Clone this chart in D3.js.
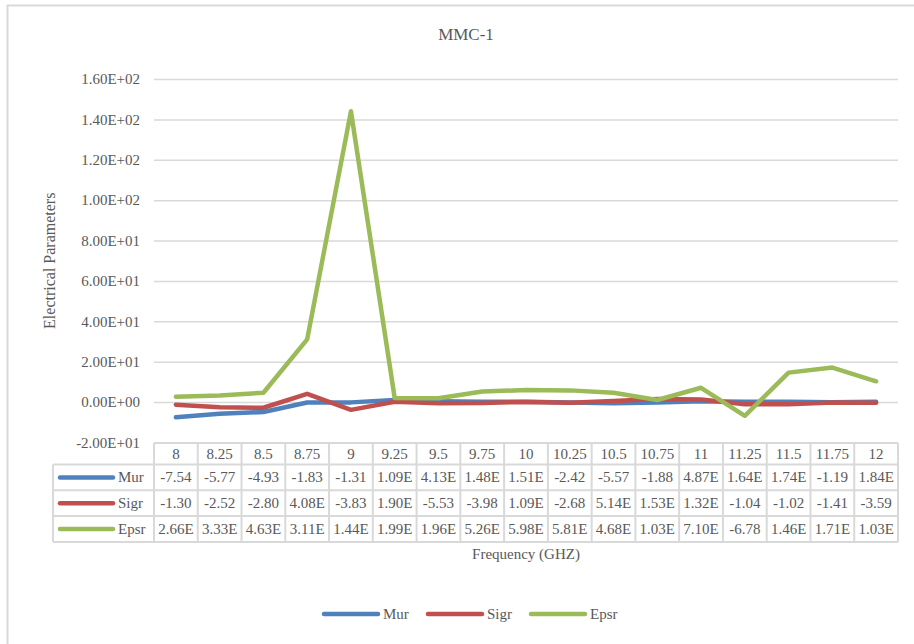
<!DOCTYPE html>
<html>
<head>
<meta charset="utf-8">
<script src="https://cdn.jsdelivr.net/npm/d3@7/dist/d3.min.js"></script>
<style>
  html, body { margin: 0; padding: 0; background: #fff; }
  svg { display: block; }
  text { font-family: "Liberation Serif", "Times New Roman", serif; fill: #595959; }
</style>
</head>
<body>
<svg id="chart" width="914" height="644"></svg>
<script>
// Frequency points (GHz)
const freqs = ["8", "8.25", "8.5", "8.75", "9", "9.25", "9.5", "9.75", "10", "10.25",
               "10.5", "10.75", "11", "11.25", "11.5", "11.75", "12"];

// Series values
const mur  = [-7.54, -5.77, -4.93, -0.183, -0.131, 1.09, 0.413, 0.148, 0.151, -0.242,
              -0.557, -0.188, 0.487, 0.164, 0.174, -0.119, 0.184];
const sigr = [-1.30, -2.52, -2.80, 4.08, -3.83, 0.190, -0.553, -0.398, 0.109, -0.268,
              0.514, 1.53, 1.32, -1.04, -1.02, -0.141, -0.359];
const epsr = [2.66, 3.33, 4.63, 31.1, 144, 1.99, 1.96, 5.26, 5.98, 5.81,
              4.68, 1.03, 7.10, -6.78, 14.6, 17.1, 10.3];

const seriesNames  = ["Mur", "Sigr", "Epsr"];
const seriesColors = ["#4f81bd", "#c0504d", "#9bbb59"];
const yTicks = [-20, 0, 20, 40, 60, 80, 100, 120, 140, 160];

const series = [mur, sigr, epsr].map((vals, i) => ({
  name: seriesNames[i], color: seriesColors[i], values: vals
}));

const svg = d3.select("#chart");
const grid = "#d9d9d9";
const fs = "15px";

// Outer chart frame
svg.append("rect")
  .attr("x", 7.5).attr("y", 5.5).attr("width", 1000).attr("height", 1000)
  .attr("fill", "none").attr("stroke", grid).attr("stroke-width", 2);

const plotLeft = 154, plotRight = 898, plotTop = 79, plotBottom = 442.5;

const x = d3.scaleBand().domain(freqs).range([plotLeft, plotRight]);
const y = d3.scaleLinear().domain([-20, 160]).range([plotBottom, plotTop]);

// Scientific label formatting, e.g. 1.60E+02
function sci(v) {
  const [m, e] = v.toExponential(2).split("e");
  const ev = Math.abs(+e);
  return m + "E" + (+e < 0 ? "-" : "+") + (ev < 10 ? "0" : "") + ev;
}

// Title
svg.append("text")
  .attr("x", 466).attr("y", 40)
  .attr("text-anchor", "middle")
  .style("font-size", "17px")
  .text("MMC-1");

// Y axis with gridlines
const yAxis = d3.axisLeft(y)
  .tickValues(yTicks)
  .tickSize(-(plotRight - plotLeft))
  .tickPadding(14)
  .tickFormat(sci);

const gy = svg.append("g")
  .attr("transform", `translate(${plotLeft},0)`)
  .call(yAxis);
gy.select(".domain").remove();
gy.selectAll(".tick line").attr("stroke", grid).attr("stroke-width", 1.5);
gy.selectAll(".tick text")
  .attr("fill", "#595959")
  .style("font-family", '"Liberation Serif", serif')
  .style("font-size", fs);

// Y axis title
svg.append("text")
  .attr("transform", `translate(55,${(plotTop + plotBottom) / 2}) rotate(-90)`)
  .attr("text-anchor", "middle")
  .style("font-size", "16px")
  .text("Electrical Parameters");

// Series lines
const line = d3.line()
  .x((d, i) => x(freqs[i]) + x.bandwidth() / 2)
  .y(d => y(d));

svg.append("g").selectAll("path")
  .data(series)
  .join("path")
  .attr("d", d => line(d.values))
  .attr("fill", "none")
  .attr("stroke", d => d.color)
  .attr("stroke-width", 4.5)
  .attr("stroke-linejoin", "round")
  .attr("stroke-linecap", "round");

// Data table under the plot
const tableLeft = 53;
const headTop = 443, headBottom = 464.5;
const rowH = 25.8;
const rowTops = series.map((s, i) => headBottom + i * rowH);
const tableBottom = headBottom + series.length * rowH;

const tbl = svg.append("g");

function hline(g, x1, x2, yy) {
  g.append("line").attr("x1", x1).attr("x2", x2).attr("y1", yy).attr("y2", yy)
    .attr("stroke", grid).attr("stroke-width", 2);
}
function vline(g, xx, y1, y2) {
  g.append("line").attr("x1", xx).attr("x2", xx).attr("y1", y1).attr("y2", y2)
    .attr("stroke", grid).attr("stroke-width", 2);
}

hline(tbl, plotLeft, plotRight, headTop);
hline(tbl, tableLeft, plotRight, headBottom);
rowTops.forEach(t => hline(tbl, tableLeft, plotRight, t + rowH));
vline(tbl, tableLeft, headBottom, tableBottom);
freqs.forEach(f => vline(tbl, x(f), headTop, tableBottom));
vline(tbl, plotRight, headTop, tableBottom);

// Header: frequency categories
tbl.append("g").selectAll("text")
  .data(freqs)
  .join("text")
  .attr("x", d => x(d) + x.bandwidth() / 2)
  .attr("y", headBottom - 5.5)
  .attr("text-anchor", "middle")
  .style("font-size", fs)
  .text(d => d);

// Row legend keys and names
series.forEach((s, i) => {
  const cy = rowTops[i] + rowH / 2;
  tbl.append("line")
    .attr("x1", 60).attr("x2", 113).attr("y1", cy).attr("y2", cy)
    .attr("stroke", s.color).attr("stroke-width", 4.5)
    .attr("stroke-linecap", "round");
  tbl.append("text")
    .attr("x", 118).attr("y", cy + 5)
    .style("font-size", fs)
    .text(s.name);
});

// Value cells, cut at a character boundary to fit the cell width
const maxW = 37.5;
series.forEach((s, i) => {
  const cy = rowTops[i] + rowH / 2;
  s.values.forEach((v, j) => {
    const full = sci(v);
    const t = tbl.append("text")
      .attr("x", x(freqs[j]) + x.bandwidth() / 2)
      .attr("y", cy + 5)
      .attr("text-anchor", "middle")
      .style("font-size", fs)
      .text(full);
    let str = full;
    while (str.length > 1 && t.node().getComputedTextLength() > maxW) {
      str = str.slice(0, -1);
      t.text(str);
    }
  });
});

// X axis title
svg.append("text")
  .attr("x", (plotLeft + plotRight) / 2).attr("y", 559)
  .attr("text-anchor", "middle")
  .style("font-size", fs)
  .text("Frequency (GHZ)");

// Bottom legend
const legendItems = [
  { x1: 324, tx: 383 },
  { x1: 428, tx: 487 },
  { x1: 531, tx: 590 }
];
const lg = svg.append("g");
series.forEach((s, i) => {
  const it = legendItems[i];
  lg.append("line")
    .attr("x1", it.x1).attr("x2", it.x1 + 54).attr("y1", 614).attr("y2", 614)
    .attr("stroke", s.color).attr("stroke-width", 4.5)
    .attr("stroke-linecap", "round");
  lg.append("text")
    .attr("x", it.tx).attr("y", 619)
    .style("font-size", fs)
    .text(s.name);
});
</script>
</body>
</html>
